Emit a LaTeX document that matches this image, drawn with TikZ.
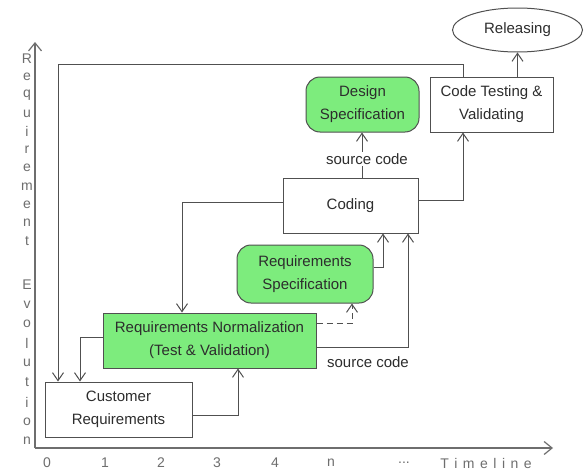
\documentclass[tikz,border=0pt]{standalone}
\usepackage{fontspec}
\setmainfont{Liberation Sans}
\usetikzlibrary{arrows.meta,shapes.geometric}
\definecolor{boxgreen}{RGB}{125,236,125}
\definecolor{linegray}{RGB}{80,80,80}
\definecolor{axgray}{RGB}{110,110,110}
\definecolor{txtgray}{RGB}{45,45,45}
\newcommand\lsp{\hspace{5.5pt}}
\begin{document}
\begin{tikzpicture}[x=1pt,y=-1pt,
  every node/.style={font=\fontsize{15}{23}\selectfont, text=txtgray, align=center},
  wbox/.style={draw=linegray, line width=1pt, fill=white, inner sep=0pt},
  gbox/.style={draw=linegray, line width=1pt, fill=boxgreen, inner sep=0pt},
  ground/.style={gbox, rounded corners=14pt},
  conn/.style={draw=linegray, line width=1pt, -{Straight Barb[length=8pt,width=11pt]}},
  axisline/.style={draw=axgray, line width=1.2pt, -{Straight Barb[length=8pt,width=13pt]}},
  axtext/.style={font=\fontsize{14}{14}\selectfont, text=axgray},
  lbl/.style={font=\fontsize{15}{15}\selectfont, fill=white, inner sep=1pt}
]
\useasboundingbox (0,0) rectangle (585,471);
\fill[white] (0,0) rectangle (585,471);

% axes
\coordinate (o) at (35,448);
\coordinate (ytip) at (35,42);
\coordinate (xtip) at (553,448);
\draw[axisline] (o) -- (ytip);
\draw[axisline] (o) -- (xtip);

% vertical label
\foreach \l [count=\i from 0] in {R,e,q,u,i,r,e,m,e,n,t}
  \node[axtext] (va\i) at (27,59+\i*18.2) {\l};
\foreach \l [count=\i from 0] in {E,v,o,l,u,t,i,o,n}
  \node[axtext] (vb\i) at (27,285+\i*19.5) {\l};

% horizontal labels
\node[axtext] (t0) at (47,463) {0};
\node[axtext] (t1) at (105,463) {1};
\node[axtext] (t2) at (161,463) {2};
\node[axtext] (t3) at (217,463) {3};
\node[axtext] (t4) at (275,463) {4};
\node[axtext] (tn) at (331,463) {n};
\node[axtext] (td) at (404,463) {...};
\node[axtext] (tl) at (486,463) {T\lsp i\lsp m\lsp e\lsp l\lsp i\lsp n\lsp e};

% nodes
\node[wbox, minimum width=147pt, minimum height=55pt] (cr) at (118.5,409.5) {Customer\\Requirements};
\node[gbox, minimum width=213pt, minimum height=55pt] (rn) at (209.5,340.5) {Requirements Normalization\\(Test \& Validation)};
\node[ground, minimum width=136pt, minimum height=58pt] (rs) at (305,274) {Requirements\\Specification};
\node[wbox, minimum width=135pt, minimum height=55pt] (cd) at (350.5,205.5) {Coding};
\node[ground, minimum width=113pt, minimum height=55pt] (ds) at (362.5,104.5) {Design\\Specification};
\node[wbox, minimum width=123pt, minimum height=55pt] (ct) at (491.5,104.5) {Code Testing \&\\Validating};
\node[ellipse, draw=linegray, line width=1pt, minimum width=130pt, minimum height=44pt, inner sep=0pt] (rel) at (517.5,30) {Releasing};

% connectors
\draw[conn] ([xshift=-28.5pt]ct.north) -- ++(0,-12) -| ([xshift=-60.5pt]cr.north);
\draw[conn] ([yshift=3.5pt]cd.west) -| ([xshift=-27.5pt]rn.north);
\draw[conn] ([yshift=3.5pt]rn.west) -| ([xshift=-38.5pt]cr.north);
\draw[conn] ([yshift=-5.5pt]cr.east) -| ([xshift=28.5pt]rn.south);
\draw[conn, dash pattern=on 6pt off 4pt] ([yshift=17.5pt]rn.east) -| ([xshift=47pt]rs.south);
\draw[conn] ([yshift=-7pt]rn.east) -| ([xshift=57.5pt]cd.south);
\node[lbl] (sc1) at (368,362) {source code};
\draw[conn] ([yshift=7pt]rs.east) -| ([xshift=32.5pt]cd.south);
\draw[conn] ([xshift=11.5pt]cd.north) -- ([xshift=-0.5pt]ds.south);
\node[lbl] (sc2) at (367,159) {source code};
\draw[conn] ([yshift=5.5pt]cd.east) -| ([xshift=-28.5pt]ct.south);
\draw[conn] (ct.north -| rel.south) -- (rel.south);
\end{tikzpicture}
\end{document}
